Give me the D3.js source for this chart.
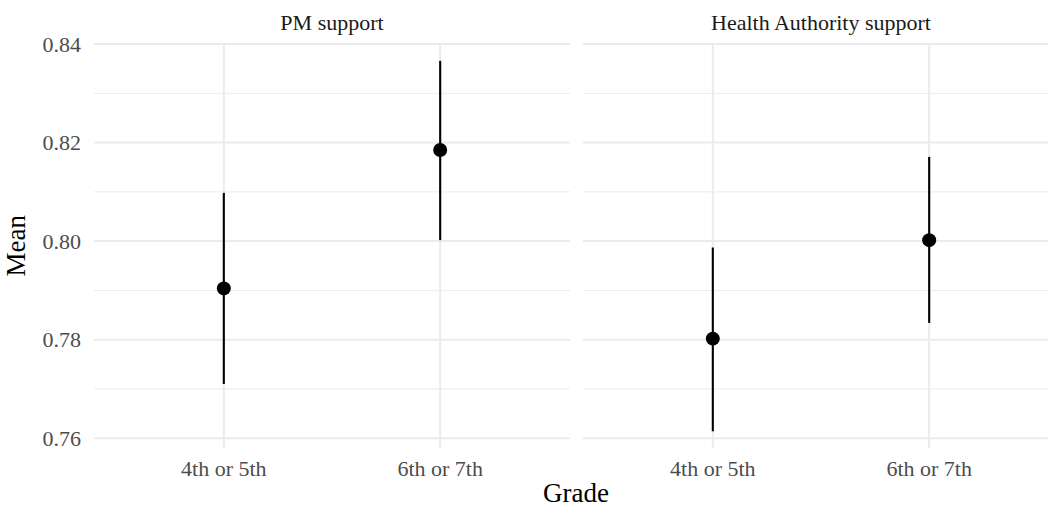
<!DOCTYPE html>
<html><head><meta charset="utf-8">
<script src="https://cdn.jsdelivr.net/npm/d3@7"></script>
<style>body{margin:0;background:#fff;}svg{display:block;}</style>
</head><body>
<svg id="chart" width="1048" height="508"></svg>
<script>
const panels = ["PM support", "Health Authority support"];
const grades = ["4th or 5th", "6th or 7th"];
const means = [[0.7904, 0.8185], [0.7802, 0.8002]];
const lower = [[0.7710, 0.8002], [0.7614, 0.7834]];
const upper = [[0.8098, 0.8366], [0.7987, 0.8171]];
const yTicks = [0.76, 0.78, 0.80, 0.82, 0.84];
const yMinor = [0.77, 0.79, 0.81, 0.83];

(function () {
const svg = d3.select("#chart");
const font = "'Liberation Serif', 'Times New Roman', serif";
const pTop = 43.6, pBottom = 448;
const panelX = [[94, 570], [583, 1059]];
const y = d3.scaleLinear().domain([0.758, 0.8401]).range([pBottom, pTop]);

panels.forEach((name, pi) => {
  const [x0, x1] = panelX[pi];
  const x = d3.scalePoint().domain(grades).range([x0, x1]).padding(0.6);
  const g = svg.append("g");
  g.selectAll(".minor").data(yMinor).join("line")
    .attr("x1", x0).attr("x2", x1)
    .attr("y1", d => y(d)).attr("y2", d => y(d))
    .attr("stroke", "#EBEBEB").attr("stroke-width", 1);
  g.selectAll(".major").data(yTicks).join("line")
    .attr("x1", x0).attr("x2", x1)
    .attr("y1", d => y(d)).attr("y2", d => y(d))
    .attr("stroke", "#EBEBEB").attr("stroke-width", 2);
  g.selectAll(".vmajor").data(grades).join("line")
    .attr("x1", d => x(d)).attr("x2", d => x(d))
    .attr("y1", pTop).attr("y2", pBottom)
    .attr("stroke", "#EBEBEB").attr("stroke-width", 2);
  g.append("text").attr("x", (x0 + x1) / 2).attr("y", 29.5)
    .attr("text-anchor", "middle").attr("font-family", font)
    .attr("font-size", 22).attr("fill", "#1A1A1A").text(name);
  g.selectAll(".xt").data(grades).join("text")
    .attr("x", d => x(d)).attr("y", 475.7)
    .attr("text-anchor", "middle").attr("font-family", font)
    .attr("font-size", 22).attr("fill", "#4D4D4D").text(d => d);
  g.selectAll(".err").data(grades).join("line")
    .attr("x1", d => x(d)).attr("x2", d => x(d))
    .attr("y1", (d, i) => y(lower[pi][i])).attr("y2", (d, i) => y(upper[pi][i]))
    .attr("stroke", "#000").attr("stroke-width", 2.1);
  g.selectAll(".pt").data(grades).join("circle")
    .attr("cx", d => x(d)).attr("cy", (d, i) => y(means[pi][i]))
    .attr("r", 7).attr("fill", "#000");
});

svg.selectAll(".yt").data(yTicks).join("text")
  .attr("x", 81).attr("y", d => y(d)).attr("dy", "0.35em")
  .attr("text-anchor", "end").attr("font-family", font)
  .attr("font-size", 22).attr("fill", "#4D4D4D").text(d => d3.format(".2f")(d));

svg.append("text").attr("x", (94 + 1059) / 2 - 0.5).attr("y", 502)
  .attr("text-anchor", "middle").attr("font-family", font)
  .attr("font-size", 27).attr("fill", "#000").text("Grade");
svg.append("text").attr("transform", `translate(25,${(pTop + pBottom) / 2}) rotate(-90)`)
  .attr("text-anchor", "middle").attr("font-family", font)
  .attr("font-size", 27).attr("fill", "#000").text("Mean");
})();
</script>
</body></html>
